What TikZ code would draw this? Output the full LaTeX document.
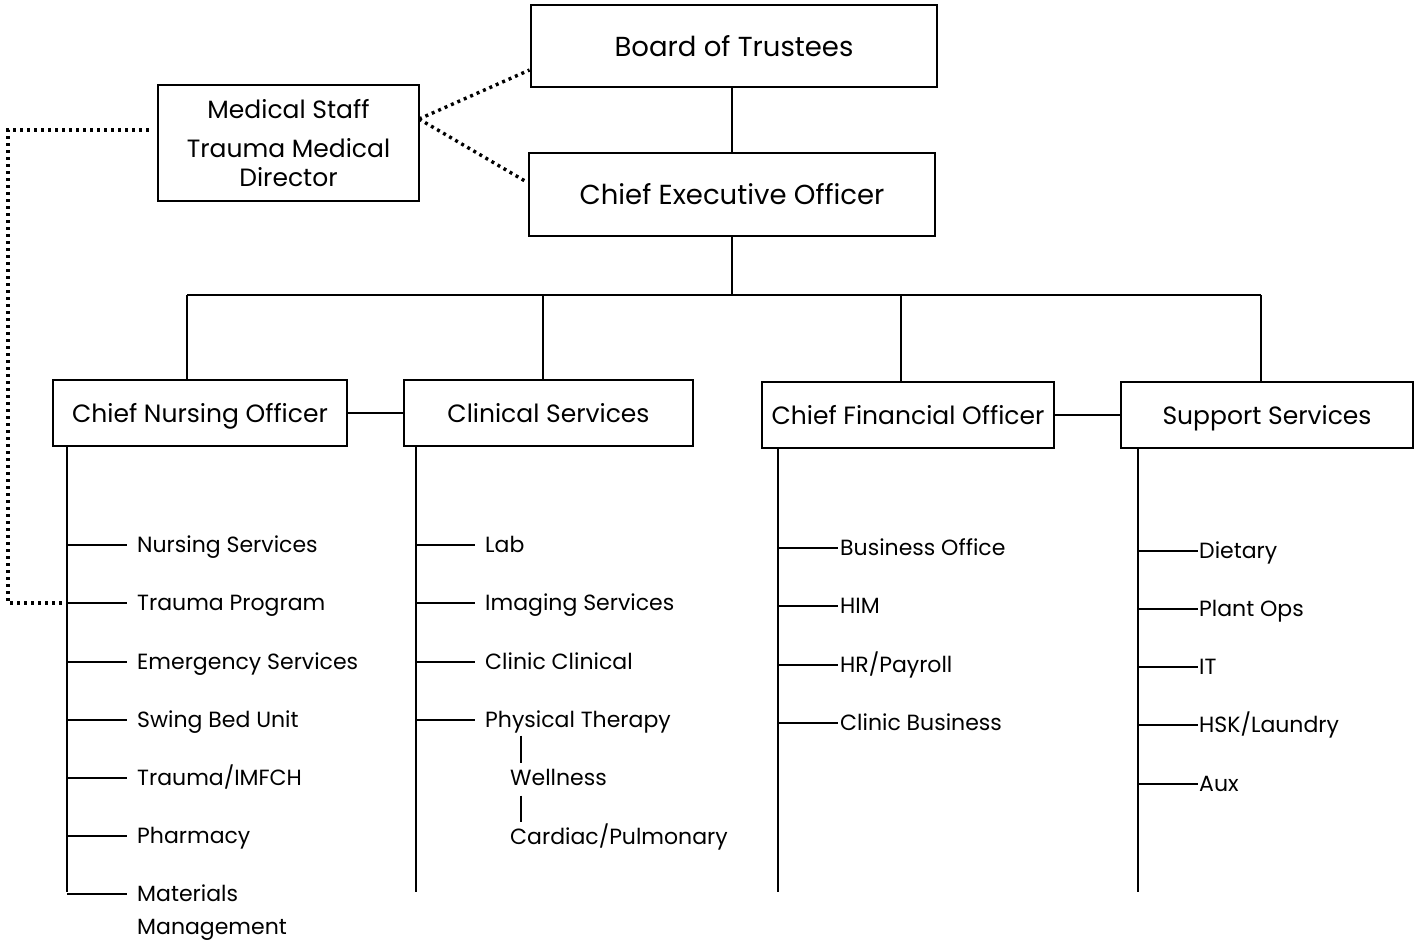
\documentclass[tikz,border=0pt]{standalone}
\usepackage{fontspec}
\setmainfont{Poppins}
\usetikzlibrary{calc}
\begin{document}
\begin{tikzpicture}[x=1pt,y=-1pt,
  box/.style={draw,line width=2.9pt,inner sep=0pt,font=\fontsize{27.5}{32}\selectfont},
  sbox/.style={box,minimum height=66pt,text height=18pt,text depth=0pt,font=\fontsize{25}{30}\selectfont},
  item/.style={anchor=west,inner sep=0pt,text height=15pt,text depth=0pt,font=\fontsize{22}{26}\selectfont},
  ln/.style={line width=2.9pt},
  tick/.style={line width=2.3pt},
  dots/.style={line width=3.4pt,dash pattern=on 3pt off 4pt}]
\useasboundingbox (0,0) rectangle (1418,945);
% top boxes
\node[box,minimum width=406pt,minimum height=82pt] (board) at (734,46) {Board of Trustees};
\node[box,minimum width=406pt,minimum height=83pt] (ceo) at (732,194.5) {Chief Executive Officer};
\node[box,minimum width=261pt,minimum height=116pt,align=center,font=\fontsize{25}{29}\selectfont] (med) at (288.5,143) {Medical Staff\\[10pt]Trauma Medical\\Director};
% second row
\node[sbox,minimum width=294pt] (cno) at (200,413) {Chief Nursing Officer};
\node[sbox,minimum width=289pt] (clin) at (548.5,413) {Clinical Services};
\node[sbox,minimum width=292pt] (cfo) at (908,415) {Chief Financial Officer};
\node[sbox,minimum width=292pt] (sup) at (1267,415) {Support Services};
% connectors top
\draw[ln] (ceo.north |- board.south) -- (ceo.north);
\coordinate (busY) at (0,295);
\coordinate (d1) at (187,295);
\coordinate (d2) at (543,295);
\coordinate (d3) at (901,295);
\coordinate (d4) at (1261,295);
\draw[ln] (ceo.south) -- (ceo.south |- busY);
\draw[ln] (d1) -- (d4);
\draw[ln] (d1) -- (d1 |- cno.north);
\draw[ln] (d2) -- (d2 |- clin.north);
\draw[ln] (d3) -- (d3 |- cfo.north);
\draw[ln] (d4) -- (d4 |- sup.north);
\draw[ln] (cno.east) -- (clin.west);
\draw[ln] (cfo.east) -- (sup.west);
% dotted links
\coordinate (mE) at (419,119);
\draw[dots] (mE) -- ([yshift=-24pt]board.west);
\draw[dots] (mE) -- ([yshift=12pt]ceo.west);
% spines
\coordinate (s1) at (67,892);
\coordinate (s2) at (416,892);
\coordinate (s3) at (778,892);
\coordinate (s4) at (1138,892);
% CNO items
\node[item] (ns) at (137,545) {Nursing Services};
\node[item] (tp) at (137,603) {Trauma Program};
\node[item] (es) at (137,662) {Emergency Services};
\node[item] (sb) at (137,720) {Swing Bed Unit};
\node[item] (ti) at (137,778) {Trauma/IMFCH};
\node[item] (ph) at (137,836) {Pharmacy};
\node[item] (mm) at (137,894) {Materials};
\node[item,anchor=north west] (mm2) at ([yshift=-18pt]mm.south west) {Management};
\draw[ln] (s1 |- cno.south) -- (s1);
\foreach \n in {ns,tp,es,sb,ti,ph,mm} \draw[tick] (s1 |- \n.west) -- ([xshift=-10pt]\n.west);
% Clinical items
\node[item] (lab) at (485,545) {Lab};
\node[item] (img) at (485,603) {Imaging Services};
\node[item] (cc) at (485,662) {Clinic Clinical};
\node[item] (pt) at (485,720) {Physical Therapy};
\node[item] (wel) at (510,778) {Wellness};
\node[item] (car) at (510,837) {Cardiac/Pulmonary};
\draw[ln] (s2 |- clin.south) -- (s2);
\foreach \n in {lab,img,cc,pt} \draw[tick] (s2 |- \n.west) -- ([xshift=-10pt]\n.west);
\coordinate (xw) at (521,0);
\draw[ln,shorten <=8pt,shorten >=7pt] (xw |- pt.south) -- (xw |- wel.north);
\draw[ln,shorten <=10pt,shorten >=7pt] (xw |- wel.south) -- (xw |- car.north);
% CFO items
\node[item] (bo) at (840,548) {Business Office};
\node[item] (him) at (840,606) {HIM};
\node[item] (hr) at (840,665) {HR/Payroll};
\node[item] (cb) at (840,723) {Clinic Business};
\draw[ln] (s3 |- cfo.south) -- (s3);
\foreach \n in {bo,him,hr,cb} \draw[tick] (s3 |- \n.west) -- ([xshift=-2pt]\n.west);
% Support items
\node[item] (die) at (1199,551) {Dietary};
\node[item] (po) at (1199,609) {Plant Ops};
\node[item] (it) at (1199,667) {IT};
\node[item] (hsk) at (1199,725) {HSK/Laundry};
\node[item] (aux) at (1199,784) {Aux};
\draw[ln] (s4 |- sup.south) -- (s4);
\foreach \n in {die,po,it,hsk,aux} \draw[tick] (s4 |- \n.west) -- ([xshift=-1pt]\n.west);
% dotted loop from medical staff to trauma program
\coordinate (dA) at (8,130);
\draw[dots] ([xshift=-8pt]med.west |- dA) -- (dA) -- (dA |- tp.west) -- (s1 |- tp.west);
\end{tikzpicture}
\end{document}
